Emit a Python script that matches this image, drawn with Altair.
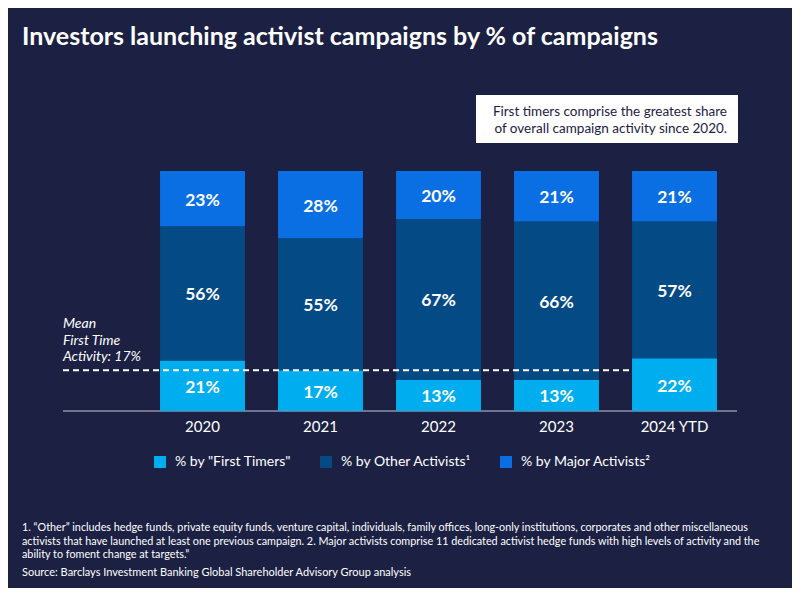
import altair as alt
import pandas as pd

# ---- data ----
years = ["2020", "2021", "2022", "2023", "2024 YTD"]
first_timers = [21, 17, 13, 13, 22]
other_activists = [56, 55, 67, 66, 57]
major_activists = [23, 28, 20, 21, 21]
series_names = ['% by "First Timers"', "% by Other Activists\u00b9", "% by Major Activists\u00b2"]
series_colors = ["#00AEEF", "#044A85", "#0A6FE3"]
mean_first_time = [17]

title_text = "Investors launching activist campaigns by % of campaigns"
callout_lines = ["First timers comprise the greatest share", "of overall campaign activity since 2020."]
mean_lines = ["Mean", "First Time", "Activity: 17%"]
footnote_lines = [
    "1. \u201cOther\u201d includes hedge funds, private equity funds, venture capital, individuals, family offices, long-only institutions, corporates and other miscellaneous",
    "activists that have launched at least one previous campaign. 2. Major activists comprise 11 dedicated activist hedge funds with high levels of activity and the",
    "ability to foment change at targets.\u201d",
]
source_text = "Source: Barclays Investment Banking Global Shareholder Advisory Group analysis"

BG = "#1C2143"
FONT = "Lato"

rows = []
for i, y in enumerate(years):
    for k, (name, vals) in enumerate(zip(series_names, [first_timers, other_activists, major_activists])):
        rows.append({"year": y, "series": name, "value": vals[i], "order": k})
df = pd.DataFrame(rows)

one = pd.DataFrame({"d": [0]})

xenc = alt.X(
    "year:N",
    sort=years,
    scale=alt.Scale(paddingInner=0.28, paddingOuter=0.14),
    axis=alt.Axis(title=None, domain=False, ticks=False, labelAngle=0, labelColor="white",
                  labelFontSize=15, labelFont=FONT, labelPadding=8),
)
yscale = alt.Scale(domain=[0, 100], nice=False)

axis_line = alt.Chart(one).mark_rule(color="#8C90A8", strokeWidth=1.5).encode(
    x=alt.value(-80.5), x2=alt.value(593.5), y=alt.value(240)
)

bars = alt.Chart(df).mark_bar().encode(
    x=xenc,
    y=alt.Y("value:Q", stack="zero", scale=yscale, axis=None),
    color=alt.Color(
        "series:N",
        scale=alt.Scale(domain=series_names, range=series_colors),
        sort=series_names,
        legend=alt.Legend(
            title=None, orient="none", legendX=9.5, legendY=284, direction="horizontal",
            columns=3, symbolType="square", symbolSize=144, symbolStrokeWidth=0,
            labelColor="white", labelFontSize=14, labelFont=FONT, labelOffset=8,
            columnPadding=27,
        ),
    ),
    order=alt.Order("order:Q"),
)

labels = (
    alt.Chart(df)
    .transform_stack(stack="value", groupby=["year"], sort=[alt.SortField("order")], as_=["v0", "v1"])
    .transform_calculate(mid="(datum.v0 + datum.v1) / 2", label="datum.value + '%'")
    .mark_text(color="white", fontSize=17.5, fontWeight="bold", font=FONT, baseline="middle", dy=2)
    .encode(x=alt.X("year:N", sort=years), y=alt.Y("mid:Q", scale=yscale), text="label:N")
)

mean_line = alt.Chart(pd.DataFrame({"m": mean_first_time})).mark_rule(
    color="white", strokeWidth=2, strokeDash=[6, 4]
).encode(y=alt.Y("m:Q", scale=yscale), x=alt.value(-80.5), x2=alt.value(488.5))

mean_text = alt.Chart(one).mark_text(
    text=mean_lines, align="left", baseline="middle", color="white", fontSize=14,
    fontStyle="italic", font=FONT, lineHeight=16.5,
).encode(x=alt.value(-80.5), y=alt.value(153))

title = alt.Chart(one).mark_text(
    text=title_text, align="left", baseline="alphabetic", color="white", fontSize=25,
    fontWeight="bold", font=FONT,
).encode(x=alt.value(-121.5), y=alt.value(-126))

callout_box = alt.Chart(one).mark_rect(color="white").encode(
    x=alt.value(332.5), x2=alt.value(594.5), y=alt.value(-76), y2=alt.value(-28)
)
callout_text = alt.Chart(one).mark_text(
    text=callout_lines, align="right", baseline="middle", color=BG, fontSize=13.5,
    font=FONT, lineHeight=17,
).encode(x=alt.value(583.5), y=alt.value(-59))

footnotes = alt.Chart(one).mark_text(
    text=footnote_lines, align="left", baseline="middle", color="white", fontSize=10.8,
    font=FONT, lineHeight=13.5,
).encode(x=alt.value(-121.5), y=alt.value(357))

source = alt.Chart(one).mark_text(
    text=source_text, align="left", baseline="middle", color="white", fontSize=11, font=FONT,
).encode(x=alt.value(-121.5), y=alt.value(402))

chart = (
    alt.layer(axis_line, bars, labels, mean_line, mean_text, title, callout_box, callout_text, footnotes, source)
    .properties(
        width=590, height=240,
        padding={"left": 135.5, "top": 163, "right": 58.5, "bottom": 177},
        autosize=alt.AutoSizeParams(type="none"),
        background=BG,
    )
    .configure_view(stroke=None)
)

chart.save("out.html", embed_options={"renderer": "svg", "actions": False})
